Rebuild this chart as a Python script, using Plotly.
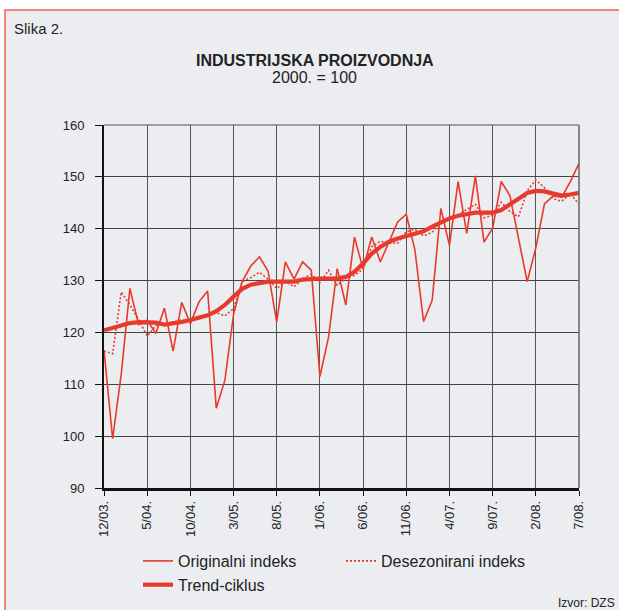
import plotly.graph_objects as go

# ---- data (monthly, 12/2003 .. 7/2008) ----
months = list(range(56))
tick_pos = [0, 5, 10, 15, 20, 25, 30, 35, 40, 45, 50, 55]
tick_labels = ["12/03.", "5/04.", "10/04.", "3/05.", "8/05.", "1/06.",
               "6/06.", "11/06.", "4/07.", "9/07.", "2/08.", "7/08."]

originalni = [116.6, 99.5, 112.0, 128.5, 121.5, 122.4, 119.8, 124.7, 116.4, 125.8,
              121.7, 125.9, 128.0, 105.4, 110.8, 123.5, 129.8, 132.8, 134.6, 131.8,
              122.0, 133.6, 130.3, 133.6, 132.0, 111.5, 119.1, 132.3, 125.3, 138.4,
              132.2, 138.4, 133.6, 137.5, 141.3, 142.8, 135.9, 122.1, 126.2, 143.9,
              136.8, 149.1, 139.1, 150.2, 137.4, 140.1, 149.1, 146.4, 138.2, 129.8,
              136.3, 144.8, 146.3, 146.1, 149.1, 152.6]

desezonirani = [116.4, 115.9, 127.8, 125.3, 122.5, 119.3, 121.3, 121.7, 122.0, 122.4,
                122.2, 123.0, 123.3, 123.8, 123.2, 124.6, 129.8, 130.6, 131.6, 130.3,
                128.5, 129.8, 128.8, 130.4, 131.2, 129.6, 132.0, 129.1, 130.4, 131.0,
                132.2, 136.5, 137.6, 137.2, 137.2, 139.4, 139.9, 138.6, 139.3, 141.3,
                141.7, 142.7, 143.6, 144.7, 142.1, 142.6, 145.1, 143.3, 142.3, 147.3,
                149.4, 147.9, 145.8, 145.3, 146.8, 144.7]

trend = [120.4, 120.9, 121.4, 121.8, 122.0, 122.0, 121.9, 121.5, 121.7, 122.0,
         122.4, 122.8, 123.3, 124.1, 125.3, 126.9, 128.4, 129.2, 129.6, 129.8,
         129.8, 129.8, 129.8, 130.2, 130.4, 130.4, 130.4, 130.4, 130.7, 131.7,
         133.3, 135.2, 136.5, 137.5, 138.1, 138.6, 139.1, 139.5, 140.4, 141.3,
         142.0, 142.5, 142.9, 143.1, 143.1, 143.1, 143.6, 144.6, 145.8, 146.9,
         147.3, 147.2, 146.7, 146.4, 146.6, 146.9]

# ---- layout geometry (pixels) ----
W, H = 619, 610
L, R, T, B = 104, 579, 125, 488

def px(x):
    return (x - L) / (R - L)

def py(y):
    return (B - y) / (B - T)

RED = "#e83a2c"
BG = "#ecedf0"
FONT = "Liberation Sans, Arial, sans-serif"
TXT = "#222"

fig = go.Figure()
fig.add_trace(go.Scatter(x=months, y=originalni, mode="lines", name="Originalni indeks",
                         line=dict(color=RED, width=1.6)))
fig.add_trace(go.Scatter(x=months, y=desezonirani, mode="lines", name="Desezonirani indeks",
                         line=dict(color=RED, width=1.6, dash="2px,2px")))
fig.add_trace(go.Scatter(x=months, y=trend, mode="lines", name="Trend-ciklus",
                         line=dict(color=RED, width=4.2)))

fig.update_layout(
    width=W, height=H,
    margin=dict(l=L, r=W - R, t=T, b=H - B, pad=0, autoexpand=False),
    paper_bgcolor="white",
    plot_bgcolor=BG,
    font=dict(family=FONT, size=13, color=TXT),
    showlegend=True,
    legend=dict(orientation="h", x=px(138), y=py(544), xanchor="left", yanchor="top",
                entrywidth=158, entrywidthmode="pixels", bgcolor="rgba(0,0,0,0)",
                font=dict(family=FONT, size=16, color=TXT), tracegroupgap=0),
    xaxis=dict(range=[0, 55], tickmode="array", tickvals=tick_pos, ticktext=tick_labels,
               tickangle=-90, showgrid=True, gridcolor="#555", gridwidth=1,
               showline=True, linecolor="#111", linewidth=2.5,
               ticks="outside", ticklen=5, tickcolor="#111", tickwidth=1,
               tickfont=dict(family=FONT, size=13, color=TXT), zeroline=False),
    yaxis=dict(range=[90, 160], dtick=10, showgrid=True, gridcolor="#444", gridwidth=1,
               showline=True, linecolor="#111", linewidth=2,
               ticks="outside", ticklen=7, tickcolor="#111", tickwidth=1,
               ticklabelstandoff=8,
               tickfont=dict(family=FONT, size=13, color=TXT), zeroline=False),
)

# background frame with red border
fig.add_shape(type="rect", xref="paper", yref="paper",
              x0=px(5), x1=px(630), y0=py(10), y1=py(620),
              fillcolor=BG, line=dict(color="#f0625a", width=1.5), layer="below")
# top and right edge lines of plot area
fig.add_shape(type="line", xref="paper", yref="paper", x0=0, x1=1, y0=1, y1=1,
              line=dict(color="#555", width=1))
fig.add_shape(type="line", xref="paper", yref="paper", x0=1, x1=1, y0=0, y1=1,
              line=dict(color="#666", width=1.5))

fig.add_annotation(text="Slika 2.", xref="paper", yref="paper", x=px(12), y=py(28),
                   xanchor="left", yanchor="middle", showarrow=False,
                   font=dict(family=FONT, size=15, color=TXT))
fig.add_annotation(text="<b>INDUSTRIJSKA PROIZVODNJA</b>", xref="paper", yref="paper",
                   x=px(315), y=py(60), xanchor="center", yanchor="middle", showarrow=False,
                   font=dict(family=FONT, size=16, color=TXT))
fig.add_annotation(text="2000. = 100", xref="paper", yref="paper",
                   x=px(314), y=py(78), xanchor="center", yanchor="middle", showarrow=False,
                   font=dict(family=FONT, size=16, color=TXT))
fig.add_annotation(text="Izvor: DZS", xref="paper", yref="paper",
                   x=px(617), y=py(603), xanchor="right", yanchor="middle", showarrow=False,
                   font=dict(family=FONT, size=12, color=TXT))

fig.write_html("out.html", config={"displayModeBar": False},
               post_script="document.body.style.margin='0px';")
